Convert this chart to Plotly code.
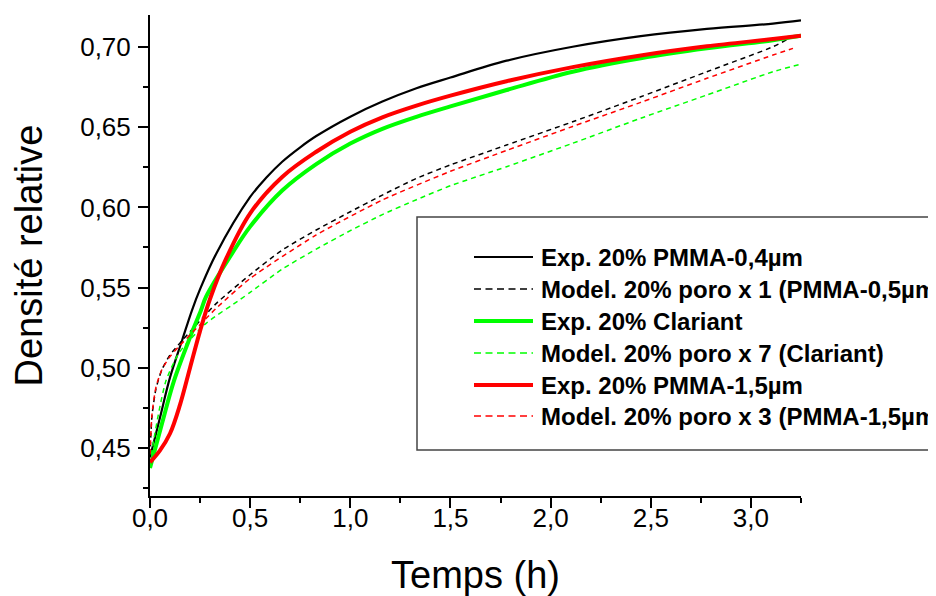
import plotly.graph_objects as go

# ---- data ----
t_exp04 = [0, 0.05, 0.1, 0.16, 0.21, 0.25, 0.33, 0.5, 0.58, 0.66, 0.75, 0.83, 1.0, 1.16, 1.33, 1.5, 1.78, 2.11, 2.45, 2.78, 3.11, 3.25]
d_exp04 = [0.444, 0.469, 0.494, 0.517, 0.536, 0.549, 0.571, 0.6065, 0.6185, 0.6285, 0.6375, 0.6445, 0.6566, 0.666, 0.6743, 0.681, 0.6915, 0.7002, 0.7068, 0.7113, 0.7146, 0.7166]

t_mod04 = [0, 0.01, 0.03, 0.06, 0.1, 0.15, 0.2, 0.33, 0.5, 0.66, 0.83, 1.0, 1.16, 1.33, 1.5, 1.78, 2.11, 2.45, 2.78, 3.11, 3.2]
d_mod04 = [0.445, 0.47, 0.487, 0.499, 0.508, 0.5155, 0.5225, 0.54, 0.558, 0.5734, 0.5859, 0.5973, 0.6077, 0.6181, 0.6265, 0.6389, 0.6534, 0.669, 0.6846, 0.7002, 0.706]

t_expcl = [0, 0.06, 0.12, 0.2, 0.255, 0.28, 0.41, 0.5, 0.66, 0.83, 1.0, 1.16, 1.33, 1.5, 1.78, 2.11, 2.45, 2.78, 3.11, 3.25]
d_expcl = [0.4374, 0.4653, 0.492, 0.519, 0.536, 0.5443, 0.5713, 0.588, 0.6105, 0.627, 0.6398, 0.649, 0.6565, 0.663, 0.6732, 0.6846, 0.693, 0.6992, 0.7042, 0.707]

t_modcl = [0, 0.013, 0.046, 0.08, 0.146, 0.28, 0.45, 0.5, 0.66, 0.83, 1.0, 1.16, 1.33, 1.5, 1.78, 2.11, 2.45, 2.78, 3.11, 3.25]
d_modcl = [0.44, 0.4507, 0.4736, 0.492, 0.5095, 0.5277, 0.5425, 0.547, 0.5615, 0.574, 0.5855, 0.5955, 0.6048, 0.6135, 0.6254, 0.64, 0.6556, 0.6701, 0.6846, 0.6894]

t_exp15 = [0, 0.05, 0.1, 0.15, 0.2, 0.25, 0.3, 0.38, 0.5, 0.66, 0.83, 1.0, 1.16, 1.33, 1.5, 1.78, 2.11, 2.45, 2.78, 3.11, 3.25]
d_exp15 = [0.441, 0.4485, 0.459, 0.477, 0.5, 0.523, 0.543, 0.568, 0.5963, 0.619, 0.6347, 0.6472, 0.6562, 0.6635, 0.6697, 0.6787, 0.6875, 0.6948, 0.7005, 0.705, 0.7071]

t_mod15 = [0, 0.01, 0.03, 0.06, 0.1, 0.15, 0.2, 0.33, 0.5, 0.83, 1.16, 1.5, 1.78, 2.11, 2.45, 2.78, 3.11, 3.21]
d_mod15 = [0.446, 0.471, 0.488, 0.499, 0.507, 0.514, 0.5205, 0.537, 0.5557, 0.5828, 0.6046, 0.6225, 0.6355, 0.6505, 0.6655, 0.6805, 0.695, 0.6992]

names = [
    "Exp. 20% PMMA-0,4µm",
    "Model. 20% poro x 1 (PMMA-0,5µm)",
    "Exp. 20% Clariant",
    "Model. 20% poro x 7 (Clariant)",
    "Exp. 20% PMMA-1,5µm",
    "Model. 20% poro x 3 (PMMA-1,5µm)",
]

FONT = "Arial, Liberation Sans, sans-serif"
colors = ["#000000", "#000000", "#00FF00", "#00FF00", "#FF0000", "#FF0000"]
widths = [2.2, 1.5, 4, 1.5, 4, 1.5]
dashes = ["solid", "5px,4px", "solid", "5px,4px", "solid", "5px,4px"]
leg_dashes = ["solid", "7px,4.5px", "solid", "7px,4.5px", "solid", "7px,4.5px"]
smooth = [1.0, 0.6, 1.0, 0.6, 1.0, 0.6]
xs = [t_exp04, t_mod04, t_expcl, t_modcl, t_exp15, t_mod15]
ys = [d_exp04, d_mod04, d_expcl, d_modcl, d_exp15, d_mod15]

# figure geometry (the page body adds an 8px margin)
W, H = 928, 588
ML, MR, MT, MB = 142, 135, 7, 100
PW, PH = W - ML - MR, H - MT - MB


def px_x(px):  # window pixel -> paper x
    return (px - 8 - ML) / PW


def px_y(py):  # window pixel -> paper y
    return 1 - (py - 8 - MT) / PH


fig = go.Figure()
for i in range(6):
    fig.add_trace(go.Scatter(
        x=xs[i], y=ys[i], name=names[i], mode="lines", showlegend=False,
        line=dict(color=colors[i], width=widths[i], dash=dashes[i], shape="spline", smoothing=smooth[i]),
    ))

# ---- legend drawn as a framed box (Origin-style) ----
shapes = [dict(type="rect", xref="paper", yref="paper",
               x0=px_x(417), x1=px_x(1100), y0=px_y(450), y1=px_y(217),
               line=dict(color="#444444", width=1.5), fillcolor="white", layer="above")]
annotations = []
row_y = [257, 289, 321, 353, 385, 416]
for i in range(6):
    shapes.append(dict(type="line", xref="paper", yref="paper",
                       x0=px_x(474), x1=px_x(533), y0=px_y(row_y[i]), y1=px_y(row_y[i]),
                       line=dict(color=colors[i], width=widths[i], dash=leg_dashes[i]), layer="above"))
    annotations.append(dict(xref="paper", yref="paper", x=px_x(539), y=px_y(row_y[i]),
                            xanchor="left", yanchor="middle", showarrow=False, text=names[i],
                            font=dict(family=FONT, size=24, color="black", weight="bold")))

fig.update_layout(
    width=W, height=H,
    margin=dict(l=ML, r=MR, t=MT, b=MB, autoexpand=False),
    paper_bgcolor="white", plot_bgcolor="white",
    separators=", ",
    font=dict(family=FONT, color="black"),
    showlegend=False,
    shapes=shapes,
    annotations=annotations,
)

fig.update_xaxes(
    range=[0, 3.25], dtick=0.5, tick0=0, tickformat=".1f",
    showline=True, linecolor="black", linewidth=2, mirror=False,
    ticks="outside", ticklen=10, tickwidth=2, tickcolor="black",
    minor=dict(dtick=0.25, ticks="outside", ticklen=5, tickwidth=2, tickcolor="black", showgrid=False),
    showgrid=False, zeroline=False,
    tickfont=dict(family=FONT, size=26, color="black"),
    ticklabelstandoff=-12,
    title=dict(text="Temps (h)", font=dict(family=FONT, size=38, color="black"), standoff=30),
)
fig.update_yaxes(
    range=[0.42, 0.72], dtick=0.05, tick0=0.45, tickformat=".2f",
    showline=True, linecolor="black", linewidth=2, mirror=False,
    ticks="outside", ticklen=10, tickwidth=2, tickcolor="black",
    minor=dict(dtick=0.025, tick0=0.425, ticks="outside", ticklen=5, tickwidth=2, tickcolor="black", showgrid=False),
    showgrid=False, zeroline=False,
    tickfont=dict(family=FONT, size=26, color="black"),
    ticklabelstandoff=2,
    title=dict(text="Densité relative", font=dict(family=FONT, size=38, color="black"), standoff=39),
)

fig.write_html("out.html")
